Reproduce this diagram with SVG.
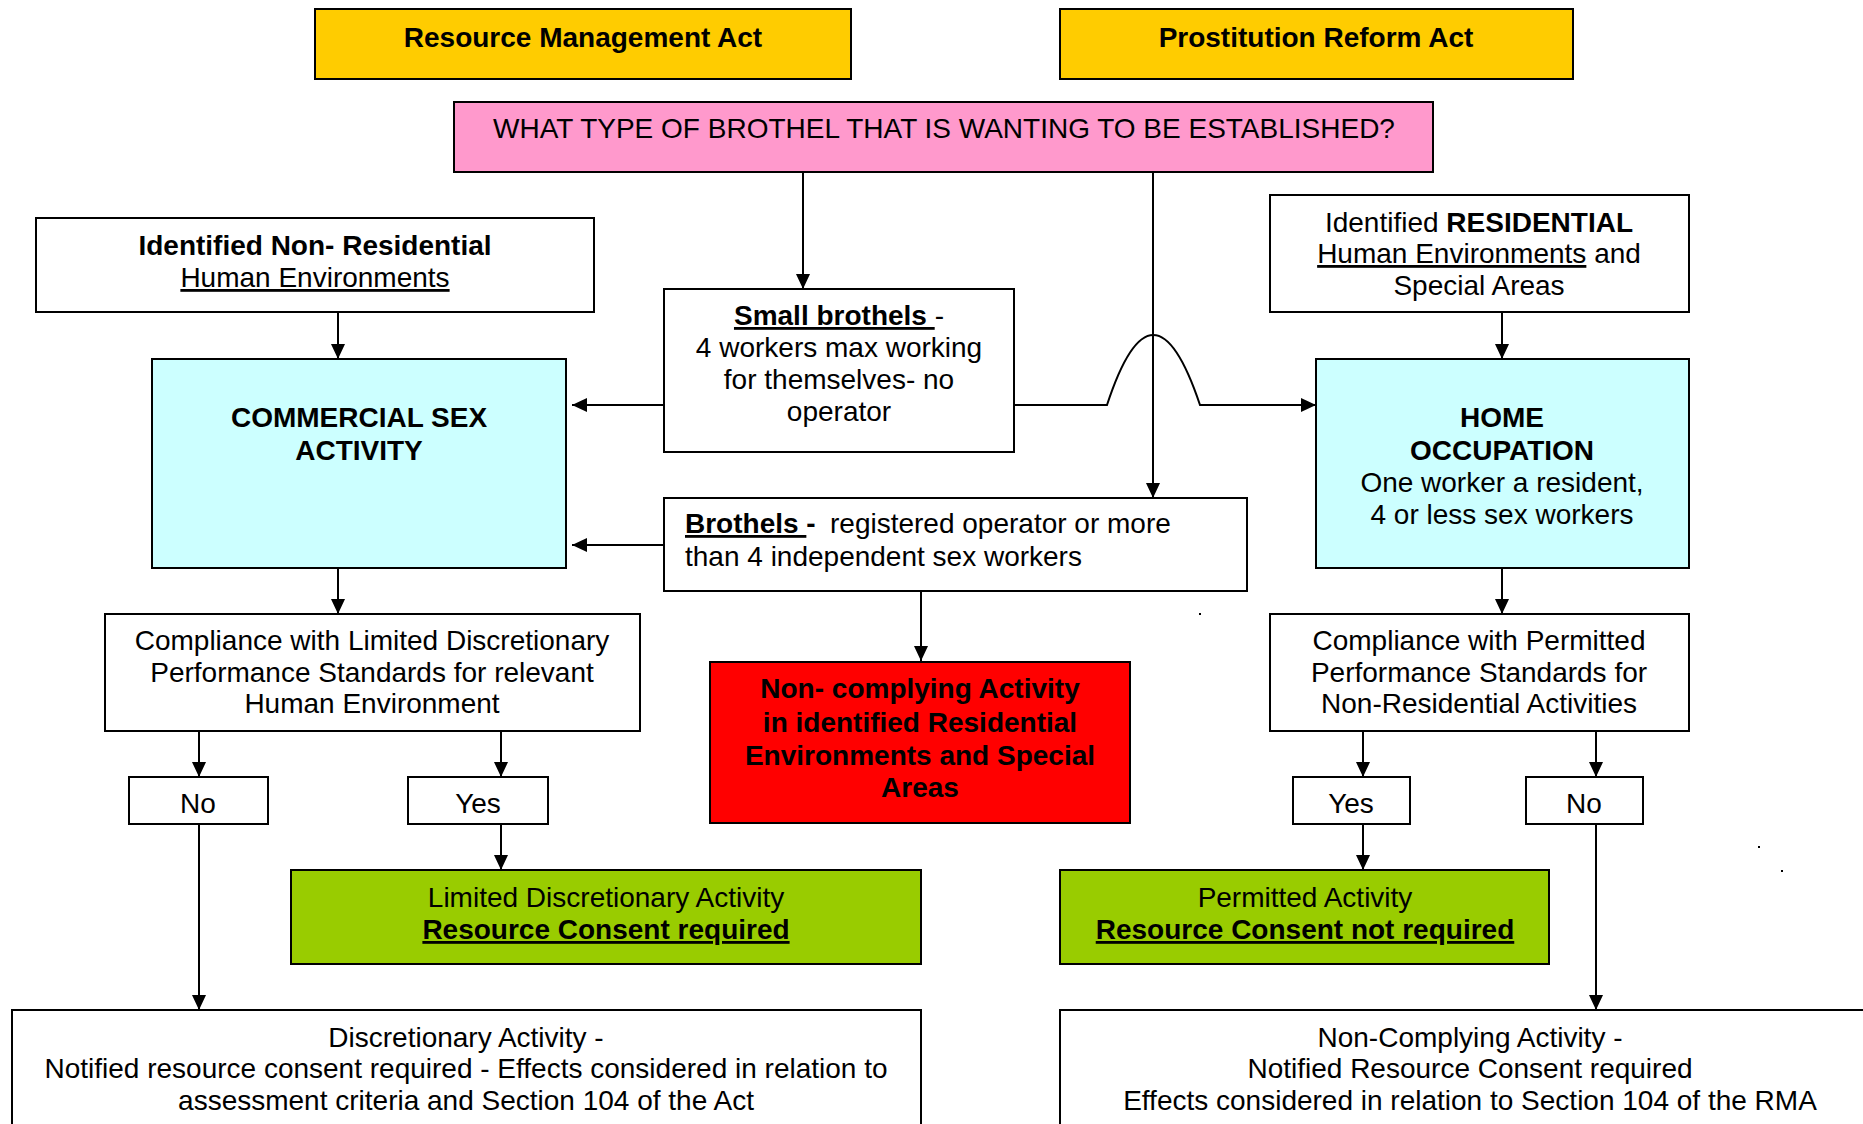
<svg xmlns="http://www.w3.org/2000/svg" width="1863" height="1124" viewBox="0 0 1863 1124">
<style>
text{font-family:"Liberation Sans",Arial,sans-serif;font-size:28px;fill:#000}
.c{text-anchor:middle}
.b{font-weight:bold}
.u{text-decoration:underline}
.box{stroke:#000;stroke-width:2}
.w{fill:#fff}
.y{fill:#FFCC00}
.p{fill:#FF99CC}
.cy{fill:#CCFFFF}
.r{fill:#FF0000}
.g{fill:#99CC00}
.ln{fill:none;stroke:#000;stroke-width:2}
</style>
<defs>
<marker id="ah" markerUnits="userSpaceOnUse" markerWidth="15" markerHeight="14" refX="15" refY="7" orient="auto">
<path d="M0,0 L15,7 L0,14 z" fill="#000"/>
</marker>
</defs>
<rect width="1863" height="1124" fill="#fff"/>

<g id="connectors">
<path class="ln" d="M803,172 V289" marker-end="url(#ah)"/>
<path class="ln" d="M1153,172 V498" marker-end="url(#ah)"/>
<path class="ln" d="M1014,405 H1107 Q1153,265 1200,405 H1316" marker-end="url(#ah)"/>
<path class="ln" d="M664,405 H572" marker-end="url(#ah)"/>
<path class="ln" d="M664,545 H572" marker-end="url(#ah)"/>
<path class="ln" d="M338,312 V359" marker-end="url(#ah)"/>
<path class="ln" d="M1502,312 V359" marker-end="url(#ah)"/>
<path class="ln" d="M338,568 V614" marker-end="url(#ah)"/>
<path class="ln" d="M1502,568 V614" marker-end="url(#ah)"/>
<path class="ln" d="M921,591 V661" marker-end="url(#ah)"/>
<path class="ln" d="M199,731 V777" marker-end="url(#ah)"/>
<path class="ln" d="M501,731 V777" marker-end="url(#ah)"/>
<path class="ln" d="M1363,731 V777" marker-end="url(#ah)"/>
<path class="ln" d="M1596,731 V777" marker-end="url(#ah)"/>
<path class="ln" d="M501,824 V870" marker-end="url(#ah)"/>
<path class="ln" d="M1363,824 V870" marker-end="url(#ah)"/>
<path class="ln" d="M199,824 V1010" marker-end="url(#ah)"/>
<path class="ln" d="M1596,824 V1010" marker-end="url(#ah)"/>
</g>

<g id="rma">
<rect class="box y" x="315" y="9" width="536" height="70"/>
<text class="c b" x="583" y="47">Resource Management Act</text>
</g>
<g id="pra">
<rect class="box y" x="1060" y="9" width="513" height="70"/>
<text class="c b" x="1316" y="47">Prostitution Reform Act</text>
</g>
<g id="question">
<rect class="box p" x="454" y="102" width="979" height="70"/>
<text class="c" x="944" y="138">WHAT TYPE OF BROTHEL THAT IS WANTING TO BE ESTABLISHED?</text>
</g>
<g id="nonres">
<rect class="box w" x="36" y="218" width="558" height="94"/>
<text class="c b" x="315" y="255">Identified Non- Residential</text>
<text class="c u" x="315" y="287">Human Environments</text>
</g>
<g id="residential">
<rect class="box w" x="1270" y="195" width="419" height="117"/>
<text class="c" x="1479" y="232">Identified <tspan class="b">RESIDENTIAL</tspan></text>
<text class="c" x="1479" y="263"><tspan class="u">Human Environments</tspan> and</text>
<text class="c" x="1479" y="295">Special Areas</text>
</g>
<g id="small">
<rect class="box w" x="664" y="289" width="350" height="163"/>
<text class="c" x="839" y="325"><tspan class="b u">Small brothels </tspan>-</text>
<text class="c" x="839" y="357">4 workers max working</text>
<text class="c" x="839" y="389">for themselves- no</text>
<text class="c" x="839" y="421">operator</text>
</g>
<g id="commercial">
<rect class="box cy" x="152" y="359" width="414" height="209"/>
<text class="c b" x="359" y="427">COMMERCIAL SEX</text>
<text class="c b" x="359" y="460">ACTIVITY</text>
</g>
<g id="home">
<rect class="box cy" x="1316" y="359" width="373" height="209"/>
<text class="c b" x="1502" y="427">HOME</text>
<text class="c b" x="1502" y="460">OCCUPATION</text>
<text class="c" x="1502" y="492">One worker a resident,</text>
<text class="c" x="1502" y="524">4 or less sex workers</text>
</g>
<g id="brothels">
<rect class="box w" x="664" y="498" width="583" height="93"/>
<text x="685" y="533"><tspan class="b u">Brothels </tspan><tspan class="b">-</tspan><tspan x="830">registered operator or more</tspan></text>
<text x="685" y="566">than 4 independent sex workers</text>
</g>
<g id="compliance-left">
<rect class="box w" x="105" y="614" width="535" height="117"/>
<text class="c" x="372" y="650">Compliance with Limited Discretionary</text>
<text class="c" x="372" y="682">Performance Standards for relevant</text>
<text class="c" x="372" y="713">Human Environment</text>
</g>
<g id="compliance-right">
<rect class="box w" x="1270" y="614" width="419" height="117"/>
<text class="c" x="1479" y="650">Compliance with Permitted</text>
<text class="c" x="1479" y="682">Performance Standards for</text>
<text class="c" x="1479" y="713">Non-Residential Activities</text>
</g>
<g id="noncomplying">
<rect class="box r" x="710" y="662" width="420" height="161"/>
<text class="c b" x="920" y="698">Non- complying Activity</text>
<text class="c b" x="920" y="732">in identified Residential</text>
<text class="c b" x="920" y="765">Environments and Special</text>
<text class="c b" x="920" y="797">Areas</text>
</g>
<g id="no-left">
<rect class="box w" x="129" y="777" width="139" height="47"/>
<text class="c" x="198" y="813">No</text>
</g>
<g id="yes-left">
<rect class="box w" x="408" y="777" width="140" height="47"/>
<text class="c" x="478" y="813">Yes</text>
</g>
<g id="yes-right">
<rect class="box w" x="1293" y="777" width="117" height="47"/>
<text class="c" x="1351" y="813">Yes</text>
</g>
<g id="no-right">
<rect class="box w" x="1526" y="777" width="117" height="47"/>
<text class="c" x="1584" y="813">No</text>
</g>
<g id="limited">
<rect class="box g" x="291" y="870" width="630" height="94"/>
<text class="c" x="606" y="907">Limited Discretionary Activity</text>
<text class="c b u" x="606" y="939">Resource Consent required</text>
</g>
<g id="permitted">
<rect class="box g" x="1060" y="870" width="489" height="94"/>
<text class="c" x="1305" y="907">Permitted Activity</text>
<text class="c b u" x="1305" y="939">Resource Consent not required</text>
</g>
<g id="discretionary">
<rect class="box w" x="12" y="1010" width="909" height="130"/>
<text class="c" x="466" y="1047">Discretionary Activity -</text>
<text class="c" x="466" y="1078">Notified resource consent required - Effects considered in relation to</text>
<text class="c" x="466" y="1110">assessment criteria and Section 104 of the Act</text>
</g>
<g id="noncomplying-activity">
<rect class="box w" x="1060" y="1010" width="830" height="130"/>
<text class="c" x="1470" y="1047">Non-Complying Activity -</text>
<text class="c" x="1470" y="1078">Notified Resource Consent required</text>
<text class="c" x="1470" y="1110">Effects considered in relation to Section 104 of the RMA</text>
</g>
<rect x="1199" y="613" width="2" height="2" fill="#000"/>
<rect x="1758" y="846" width="2" height="2" fill="#000"/>
<rect x="1781" y="870" width="2" height="2" fill="#000"/>
</svg>
